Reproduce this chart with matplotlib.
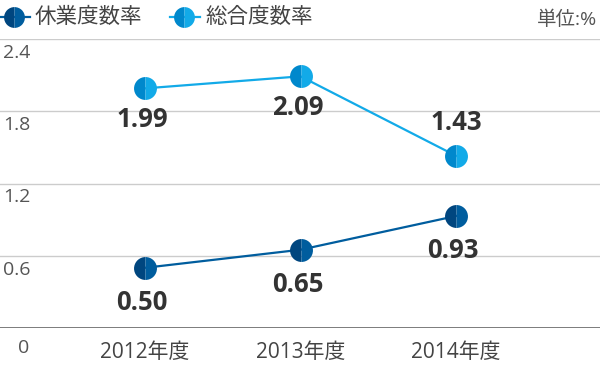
import matplotlib.pyplot as plt
from matplotlib.lines import Line2D

plt.rcParams['font.family'] = ['Open Sans', 'Noto Sans CJK JP', 'DejaVu Sans']

years = ["2012年度", "2013年度", "2014年度"]
kyugyo = [0.50, 0.65, 0.93]   # 休業度数率
sogo = [1.99, 2.09, 1.43]     # 総合度数率
yticks = [0, 0.6, 1.2, 1.8, 2.4]

dark_l, dark_r = "#00467f", "#005d9e"
light_l, light_r = "#0088cc", "#12aae8"

fig = plt.figure(figsize=(6, 3.66), dpi=100)
# y=0 at pixel 328, y=2.4 at pixel 39
ax = fig.add_axes([0, 38 / 366, 1, 289 / 366])
ax.set_xlim(-0.9325, 2.926)
ax.set_ylim(0, 2.4)
ax.axis("off")

x = range(len(years))

# gridlines
for v in yticks:
    ax.axhline(v, color="#666666" if v == 0 else "#cccccc", lw=1.2 if v == 0 else 1, zorder=0)
    if v == 0:
        ax.text(-0.78, -0.09, "0", ha="center", va="top", fontsize=14, color="#555555")
    else:
        ax.text(-0.91, v - 0.04, "{:g}".format(v), ha="left", va="top", fontsize=14,
                color="#555555")

ax.plot(x, kyugyo, color=dark_r, lw=1.6, marker="o", ms=16.5, fillstyle="left",
        markerfacecolor=dark_l, markerfacecoloralt=dark_r, markeredgewidth=0, zorder=3)
ax.plot(x, sogo, color=light_r, lw=1.6, marker="o", ms=16.5, fillstyle="left",
        markerfacecolor=light_l, markerfacecoloralt=light_r, markeredgewidth=0, zorder=3)

# value labels
for i, v in enumerate(kyugyo):
    ax.annotate("{:.2f}".format(v), (i, v), xytext=(-2, -15), textcoords="offset points",
                ha="center", va="top", fontsize=18.5, fontweight="bold", color="#333333")
for i, v in enumerate(sogo):
    off = (-2, -13) if i < 2 else (0, 14)
    ax.annotate("{:.2f}".format(v), (i, v), xytext=off, textcoords="offset points",
                ha="center", va="top" if i < 2 else "bottom", fontsize=18.5,
                fontweight="bold", color="#333333")

for i, yr in enumerate(years):
    ax.text(i, -0.12, yr, ha="center", va="top", fontsize=15, color="#444444")

# legend
def leg(x0, c_l, c_r, c_line, label):
    fig.add_artist(Line2D([x0 / 600, (x0 + 30) / 600], [349 / 366, 349 / 366],
                          color=c_line, lw=1.6, transform=fig.transFigure))
    fig.add_artist(Line2D([(x0 + 14) / 600], [349 / 366], marker="o", ms=15, fillstyle="left",
                          markerfacecolor=c_l, markerfacecoloralt=c_r, markeredgewidth=0,
                          transform=fig.transFigure))
    fig.text((x0 + 35) / 600, 349 / 366, label, ha="left", va="center", fontsize=15.5,
             color="#444444")

leg(0, dark_l, dark_r, dark_r, "休業度数率")
leg(170, light_l, light_r, light_r, "総合度数率")
fig.text(597 / 600, 346 / 366, "単位:%", ha="right", va="center", fontsize=14, color="#555555")

fig.savefig("out.png", dpi=100)
